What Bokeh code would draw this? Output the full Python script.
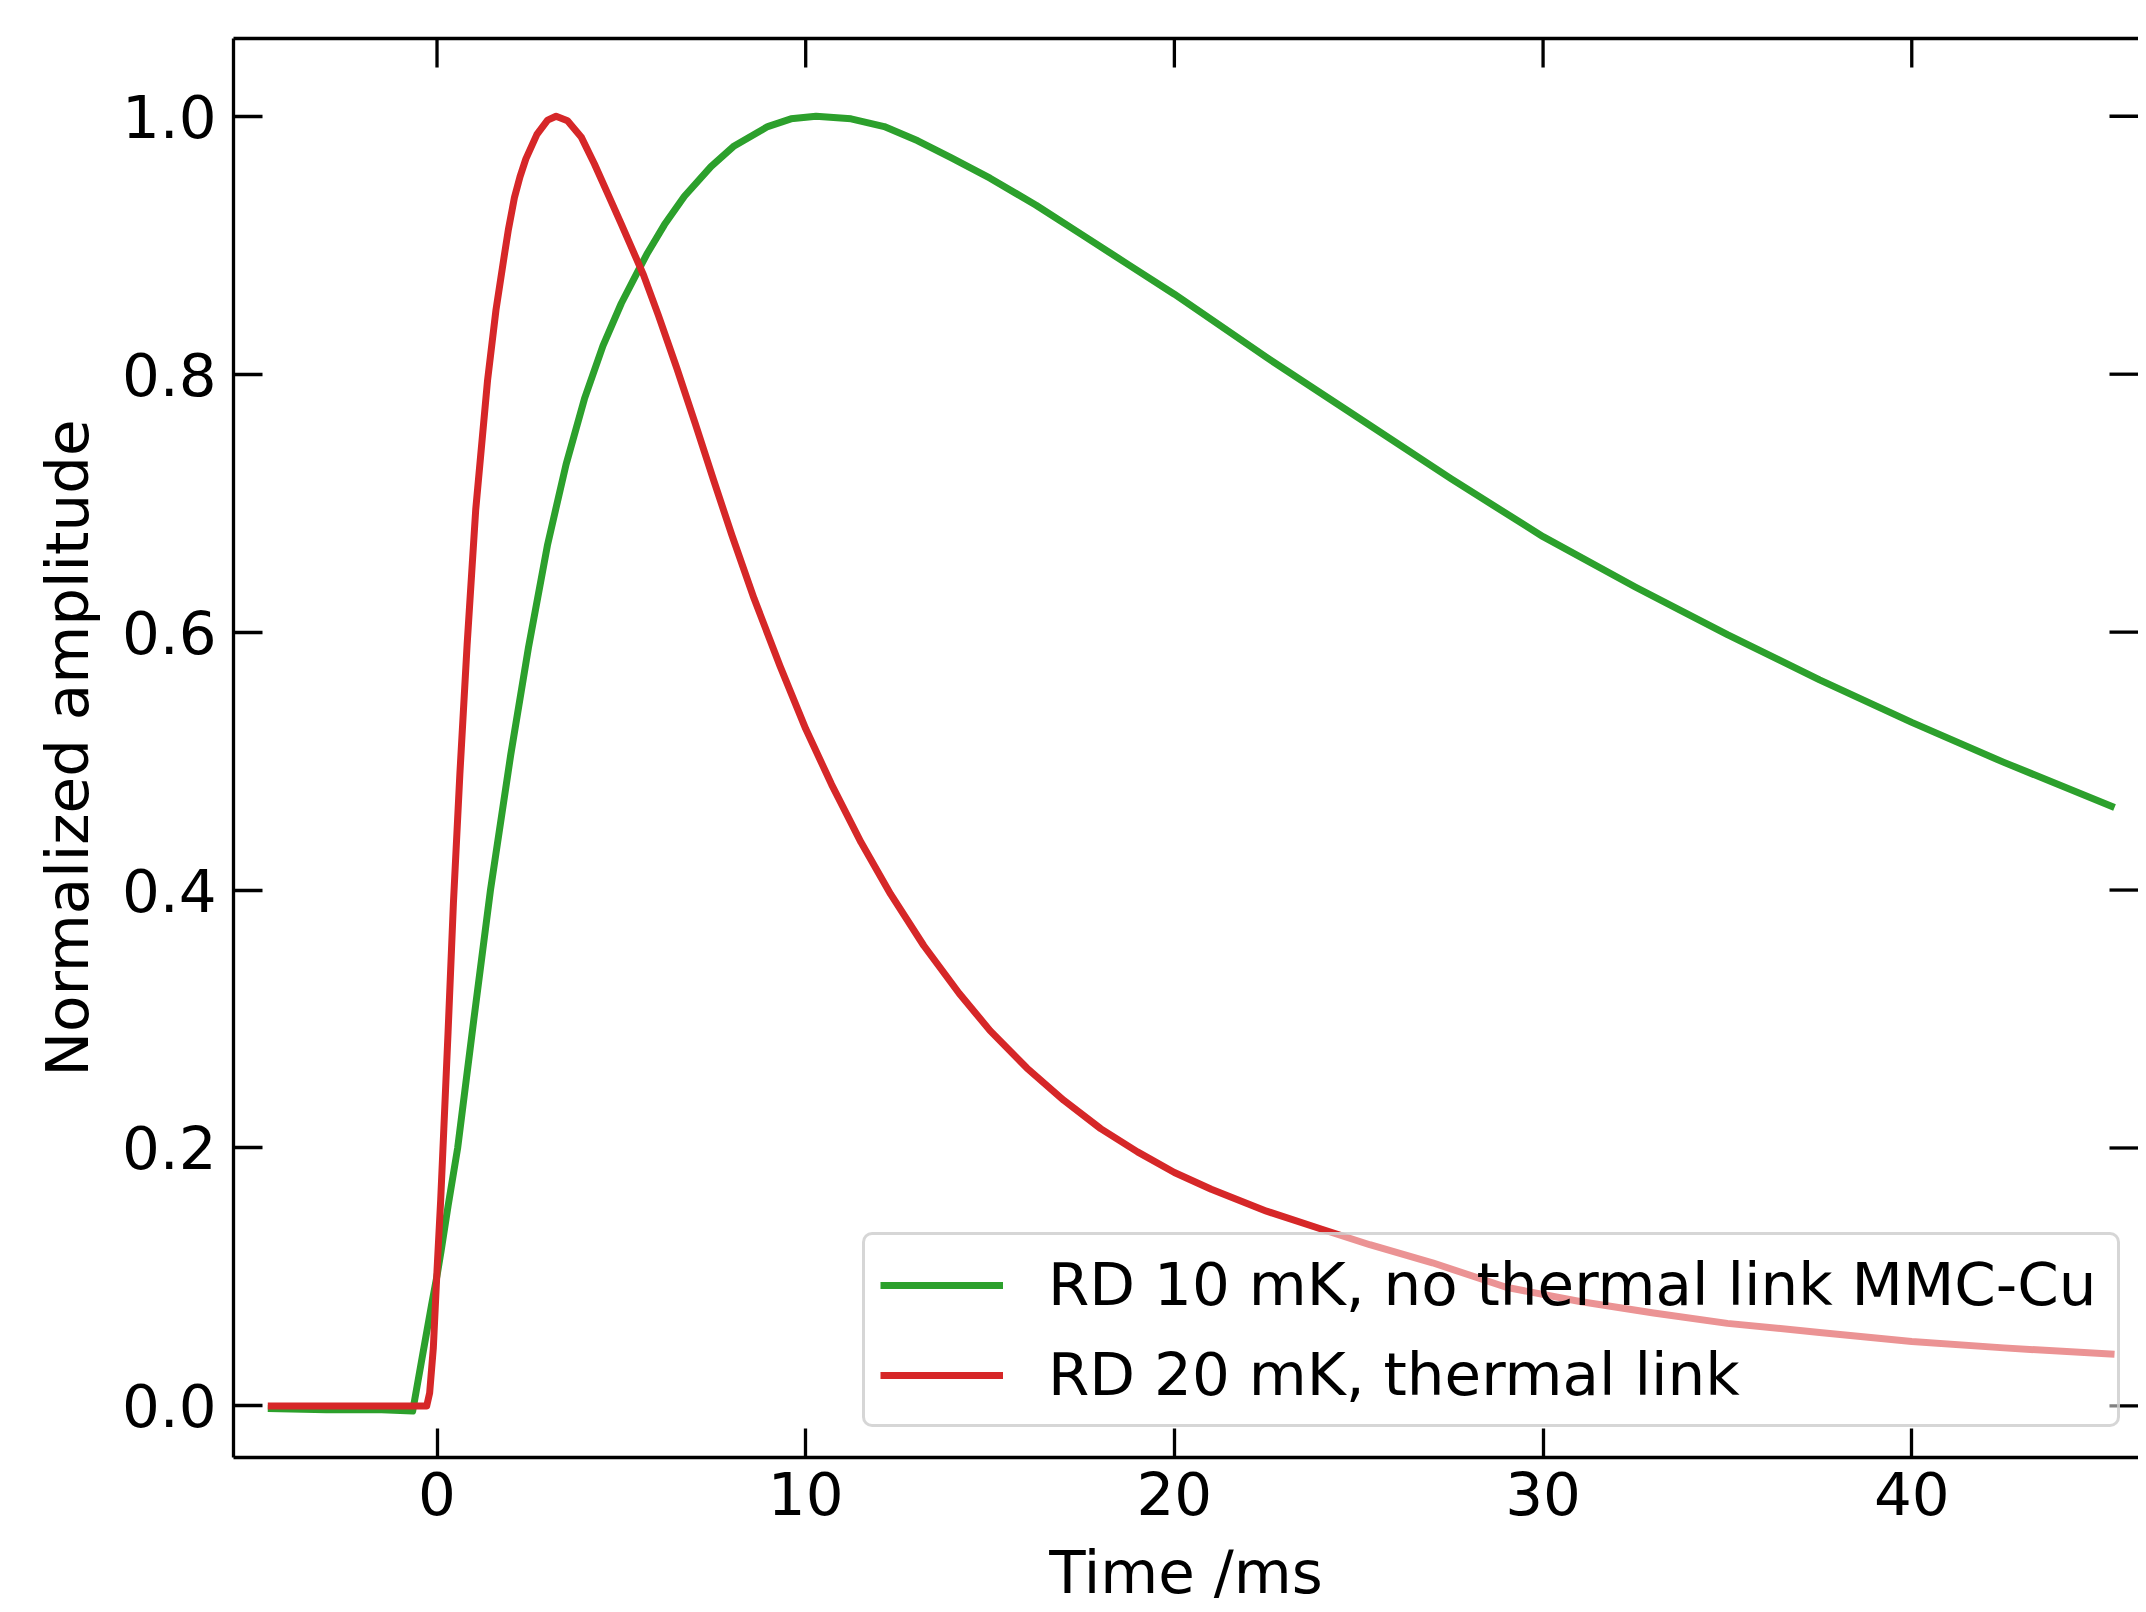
import math
from bokeh.plotting import figure
from bokeh.models import Range1d, LinearAxis, FixedTicker, PrintfTickFormatter, Legend, LegendItem
from bokeh.embed import file_html
from bokeh.resources import INLINE

# ---- data ----
x_ticks = [0, 10, 20, 30, 40]
y_ticks = [0.0, 0.2, 0.4, 0.6, 0.8, 1.0]

green_label = "RD 10 mK, no thermal link MMC-Cu"
green_t = [-4.59, -3.0, -1.5, -0.66, -0.4, -0.15, 0.0, 0.11, 0.3, 0.56, 1.0, 1.45,
           2.0, 2.48, 3.0, 3.5, 4.0, 4.5, 5.0, 5.45, 5.71, 6.17, 6.71, 7.43, 8.06,
           8.97, 9.6, 10.28, 11.23, 12.13, 13.04, 13.94, 15.0, 16.25, 17.5, 18.75,
           20.0, 22.5, 25.0, 27.5, 30.0, 32.5, 35.0, 37.5, 40.0, 42.5, 45.5]
green_y = [-0.002, -0.003, -0.003, -0.004, 0.038, 0.078, 0.101, 0.12, 0.155, 0.20,
           0.30, 0.40, 0.505, 0.588, 0.668, 0.730, 0.781, 0.822, 0.855, 0.880, 0.894,
           0.916, 0.938, 0.961, 0.977, 0.992, 0.998, 1.0, 0.998, 0.992, 0.981, 0.968,
           0.952, 0.931, 0.908, 0.885, 0.862, 0.813, 0.766, 0.719, 0.674, 0.635,
           0.598, 0.563, 0.530, 0.499, 0.464]

red_label = "RD 20 mK, thermal link"
red_t = [-4.59, -3.0, -1.5, -0.28, -0.2, -0.1, 0.0, 0.1, 0.185, 0.3, 0.445, 0.62,
         0.816, 1.05, 1.37, 1.6, 1.83, 1.935, 2.10, 2.25, 2.41, 2.71, 3.0, 3.23,
         3.54, 3.91, 4.27, 4.63, 4.99, 5.31, 5.6, 6.0, 6.5, 7.0, 7.5, 8.0, 8.6, 9.3,
         10.0, 10.7, 11.5, 12.3, 13.2, 14.16, 15.0, 16.0, 17.0, 18.0, 19.0, 20.0,
         21.0, 22.5, 24.0, 25.3, 27.0, 29.0, 31.0, 33.0, 35.0, 37.5, 40.0, 42.5, 45.5]
red_y = [0.0, 0.0, 0.0, 0.0, 0.01, 0.045, 0.105, 0.16, 0.215, 0.29, 0.39, 0.49,
         0.59, 0.695, 0.795, 0.85, 0.893, 0.912, 0.937, 0.953, 0.967, 0.986, 0.997,
         1.0, 0.9965, 0.984, 0.963, 0.940, 0.917, 0.896, 0.877, 0.846, 0.805, 0.762,
         0.718, 0.675, 0.626, 0.574, 0.525, 0.482, 0.437, 0.397, 0.357, 0.320, 0.291,
         0.262, 0.237, 0.215, 0.197, 0.181, 0.168, 0.151, 0.137, 0.125, 0.111, 0.092,
         0.081, 0.072, 0.064, 0.057, 0.050, 0.045, 0.040]

FONT = "DejaVu Sans"
FS = "59.5px"
X_START, X_END = -5.52, 46.15
Y_START, Y_END = -0.040, 1.0603

p = figure(width=2138, height=1610, output_backend="svg", toolbar_location=None,
           x_range=Range1d(X_START, X_END), y_range=Range1d(Y_START, Y_END),
           min_border_left=233, min_border_right=0, min_border_top=38,
           min_border_bottom=153)
p.grid.visible = False
p.background_fill_color = "white"
p.border_fill_color = "white"
p.outline_line_color = None

xa = p.xaxis[0]
ya = p.yaxis[0]
xa.ticker = FixedTicker(ticks=x_ticks)
ya.ticker = FixedTicker(ticks=y_ticks)
ya.formatter = PrintfTickFormatter(format="%.1f")
for ax in (xa, ya):
    ax.axis_line_color = "black"
    ax.axis_line_width = 3.3
    ax.major_tick_in = 29
    ax.major_tick_out = 0
    ax.minor_tick_in = 0
    ax.minor_tick_out = 0
    ax.major_tick_line_width = 3.3
    ax.major_tick_line_color = "black"
    ax.major_label_text_font = FONT
    ax.major_label_text_font_size = FS
    ax.major_label_text_color = "black"
    ax.axis_label_text_font = FONT
    ax.axis_label_text_font_size = FS
    ax.axis_label_text_font_style = "normal"
    ax.axis_label_text_color = "black"
xa.major_label_standoff = 14
ya.major_label_standoff = 17
xa.axis_label = "Time /ms"
ya.axis_label = "Normalized amplitude"
xa.axis_label_standoff = 20
ya.axis_label_standoff = 17

# top spine (no ticks, no labels)
top = LinearAxis(ticker=FixedTicker(ticks=[]), axis_line_color="black",
                 axis_line_width=3.3, major_tick_in=0, major_tick_out=0,
                 minor_tick_in=0, minor_tick_out=0)
p.add_layout(top, "above")

# inward ticks on the top and right edges
p.ray(x=x_ticks, y=[Y_END] * len(x_ticks), length=29, length_units="screen",
      angle=-math.pi / 2, line_color="black", line_width=3.3)
p.ray(x=[X_END] * len(y_ticks), y=y_ticks, length=29, length_units="screen",
      angle=math.pi, line_color="black", line_width=3.3)

g = p.line(green_t, green_y, line_color="#2ca02c", line_width=7, line_join="round")
r = p.line(red_t, red_y, line_color="#d62728", line_width=7, line_join="round")

legend = Legend(items=[LegendItem(label=green_label, renderers=[g]),
                       LegendItem(label=red_label, renderers=[r])],
                location=(629, 30))
legend.margin = 0
legend.padding = 15
legend.spacing = 21
legend.glyph_width = 123
legend.glyph_height = 68
legend.label_height = 68
legend.label_width = 1054
legend.label_standoff = 45
legend.label_text_font = FONT
legend.label_text_font_size = FS
legend.label_text_color = "black"
legend.background_fill_color = "white"
legend.background_fill_alpha = 0.5
legend.border_line_color = "#cccccc"
legend.border_line_alpha = 0.8
legend.border_line_width = 3
if "border_radius" in Legend.properties():
    legend.border_radius = 10
p.add_layout(legend)

open("out.html", "w").write(file_html(p, INLINE))
